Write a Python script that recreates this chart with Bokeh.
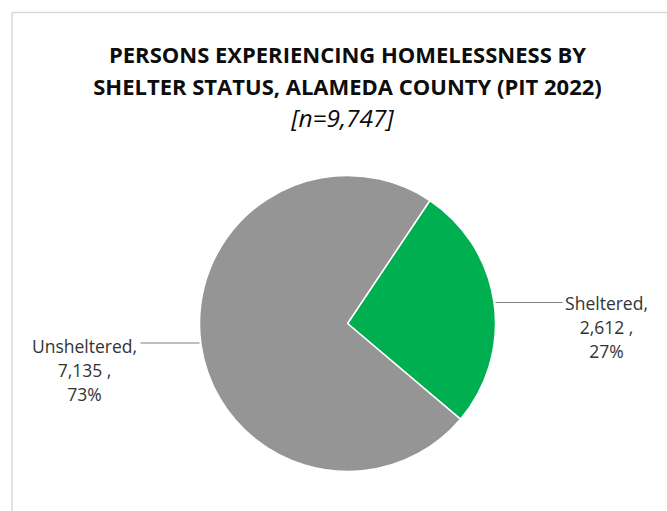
import math
from bokeh.plotting import figure
from bokeh.models import Range1d, ColumnDataSource
from bokeh.core.properties import value
from bokeh.embed import file_html
from bokeh.resources import INLINE

# Point-in-time count 2022, Alameda County
categories = ["Unsheltered", "Sheltered"]
counts = [7135, 2612]
slice_colors = ["#959595", "#00b050"]
title_lines = ["PERSONS EXPERIENCING HOMELESSNESS BY",
               "SHELTER STATUS, ALAMEDA COUNTY (PIT 2022)"]

W, H = 667, 511
total = sum(counts)
subtitle = f"[n={total:,}]"


def Y(v):
    """Convert a top-down pixel offset to the figure's y coordinate."""
    return H - v


p = figure(width=W, height=H, x_range=Range1d(0, W), y_range=Range1d(0, H),
           output_backend="svg", toolbar_location=None, min_border=0)
p.axis.visible = False
p.grid.visible = False
p.outline_line_color = None
p.background_fill_color = "white"
p.border_fill_color = "white"

# chart area frame (left and top edges)
p.segment(x0=[11.5, 11.5], y0=[Y(12), Y(12)], x1=[11.5, W + 5], y1=[Y(H + 5), Y(12)],
          line_color="#d9d9d9", line_width=1.5)

# ---- pie ----
cx, cy, radius = 347, Y(323), 148
first_slice_offset = 33.8  # degrees clockwise from 12 o'clock where Sheltered starts

# Sheltered is drawn first going clockwise, Unsheltered fills the rest
order = [1, 0]
clock = first_slice_offset
starts, ends, cols, names = [], [], [], []
for i in order:
    sweep = counts[i] / total * 360.0
    starts.append(math.radians(90 - clock))
    ends.append(math.radians(90 - clock - sweep))
    cols.append(slice_colors[i])
    names.append(categories[i])
    clock += sweep

src = ColumnDataSource(dict(start=starts, end=ends, color=cols, name=names))
p.wedge(x=cx, y=cy, radius=radius, radius_units="screen",
        start_angle="start", end_angle="end", direction="clock",
        fill_color="color", line_color="white", line_width=1.5, source=src)

# ---- titles ----
p.text(x=[347, 347], y=[Y(53), Y(85)], text=title_lines,
       text_font=value("Open Sans"), text_font_style="bold",
       text_font_size="22px", text_color="#0d0d0d",
       text_align="center", text_baseline="alphabetic")
p.text(x=[342], y=[Y(117)], text=[subtitle],
       text_font=value("Open Sans"), text_font_style="italic",
       text_font_size="24.5px", text_color="#0d0d0d",
       text_align="center", text_baseline="alphabetic")

# ---- data labels with leader lines ----
label_x = {"Unsheltered": 84, "Sheltered": 606}
label_top = {"Unsheltered": 345, "Sheltered": 302}
leader = {"Unsheltered": (140, 199, 342.5), "Sheltered": (495, 562, 302)}
line_gap = 24

lx, ly, lt = [], [], []
for cat, cnt in zip(categories, counts):
    pct = round(cnt / total * 100)
    for k, s in enumerate([f"{cat},", f"{cnt:,} ,", f"{pct}%"]):
        lx.append(label_x[cat])
        ly.append(Y(label_top[cat] + k * line_gap))
        lt.append(s)
p.text(x=lx, y=ly, text=lt, text_font=value("Open Sans"), text_font_size="17.5px",
       text_color="#333333", text_align="center", text_baseline="alphabetic")

p.segment(x0=[leader[c][0] for c in categories], x1=[leader[c][1] for c in categories],
          y0=[Y(leader[c][2]) for c in categories], y1=[Y(leader[c][2]) for c in categories],
          line_color="#7f7f7f", line_width=1.2)

open("out.html", "w").write(file_html(p, INLINE))
